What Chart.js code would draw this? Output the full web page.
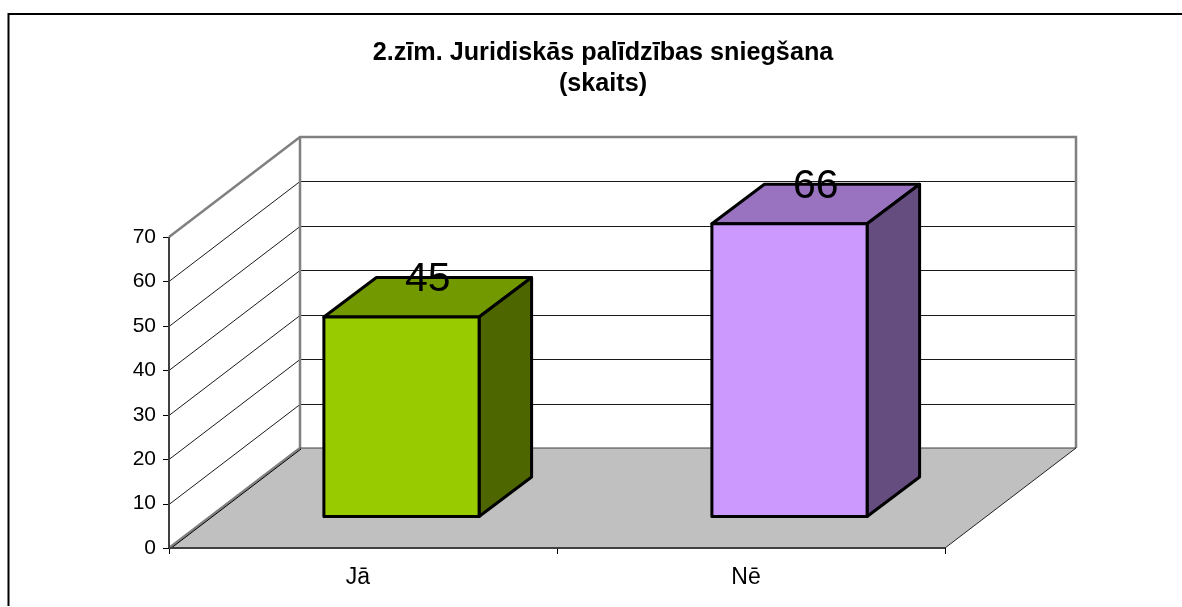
<!DOCTYPE html>
<html><head><meta charset="utf-8">
<style>html,body{margin:0;padding:0;background:#fff;overflow:hidden}#w{position:relative;width:1182px;height:607px}</style>
<script src="https://cdn.jsdelivr.net/npm/chart.js@4"></script>
</head><body><div id="w"><canvas id="c" width="1182" height="607"></canvas></div>
<script>
const categories = ["Jā", "Nē"];
const values = [45, 66];
const titleLines = ["2.zīm. Juridiskās palīdzības sniegšana", "(skaits)"];
const frontColors = ["#99cc00", "#cc99ff"];
const topColors = ["#739900", "#9973bf"];
const sideColors = ["#4d6600", "#664d80"];
const yMax = 70, yStep = 10;

// 3D projection settings
const WALL_DX = 131, WALL_DY = -100;   // depth of the whole floor
const BAR_SHIFT_X = 38.5, BAR_SHIFT_Y = -31; // bar position inside the floor
const BAR_DX = 52.5, BAR_DY = -39.5;   // depth of one bar
const TITLE_CENTER = 603;
const FONT = '"Liberation Sans", Arial, sans-serif';

function line(ctx, pts, color, w) {
  ctx.beginPath();
  pts.forEach((p, i) => i ? ctx.lineTo(p[0], p[1]) : ctx.moveTo(p[0], p[1]));
  ctx.strokeStyle = color; ctx.lineWidth = w; ctx.stroke();
}
function poly(ctx, pts, fill, stroke, w) {
  ctx.beginPath();
  pts.forEach((p, i) => i ? ctx.lineTo(p[0], p[1]) : ctx.moveTo(p[0], p[1]));
  ctx.closePath();
  if (fill) { ctx.fillStyle = fill; ctx.fill(); }
  if (stroke) { ctx.strokeStyle = stroke; ctx.lineWidth = w; ctx.lineJoin = "round"; ctx.stroke(); }
}

const threeD = {
  id: "threeD",
  afterLayout(chart) {
    // the plot leaves room on the right for the depth; the title is centred on the whole picture
    chart.titleBlock.left = 0;
    chart.titleBlock.right = TITLE_CENTER * 2;
  },
  beforeDraw(chart) {
    const ctx = chart.ctx;
    ctx.save();
    ctx.fillStyle = "#fff"; ctx.fillRect(0, 0, chart.width, chart.height);
    line(ctx, [[8.5, 606], [8.5, 14], [chart.width, 14]], "#000", 2);
    ctx.restore();
  },
  beforeDatasetsDraw(chart) {
    const ctx = chart.ctx, y = chart.scales.y, a = chart.chartArea;
    const L = a.left, R = a.right, B = y.getPixelForValue(0), T = y.getPixelForValue(yMax);
    ctx.save();
    poly(ctx, [[L, B], [R, B], [R + WALL_DX, B + WALL_DY], [L + WALL_DX, B + WALL_DY]], "#c0c0c0");
    y.ticks.forEach(t => {
      const p = Math.round(y.getPixelForValue(t.value)) + 0.5;
      line(ctx, [[L - 6, p], [L, p]], "#000", 1);
      if (t.value === 0 || t.value === yMax) return;
      line(ctx, [[L, p], [L + WALL_DX, p + WALL_DY], [R + WALL_DX, p + WALL_DY]], "#1a1a1a", 1);
    });
    line(ctx, [[L, T], [L + WALL_DX, T + WALL_DY], [R + WALL_DX, T + WALL_DY], [R + WALL_DX, B + WALL_DY]], "#808080", 2.5);
    line(ctx, [[L + WALL_DX, T + WALL_DY], [L + WALL_DX, B + WALL_DY], [L, B]], "#808080", 2.5);
    line(ctx, [[L + WALL_DX, B + WALL_DY], [R + WALL_DX, B + WALL_DY]], "#404040", 1);
    line(ctx, [[L + 1, B + 1], [L + WALL_DX + 1, B + WALL_DY + 1]], "#000", 1);
    line(ctx, [[R, B], [R + WALL_DX, B + WALL_DY]], "#222", 1);
    line(ctx, [[L, B], [R, B]], "#404040", 2);
    line(ctx, [[L, T], [L, B]], "#404040", 2);
    ctx.restore();
    ctx.save();
    ctx.translate(BAR_SHIFT_X, BAR_SHIFT_Y);
    chart.getDatasetMeta(0).data.forEach((bar, i) => {
      const x0 = bar.x - bar.width / 2, x1 = bar.x + bar.width / 2;
      poly(ctx, [[x0, bar.y], [x0 + BAR_DX, bar.y + BAR_DY], [x1 + BAR_DX, bar.y + BAR_DY], [x1, bar.y]], topColors[i], "#000", 3);
      poly(ctx, [[x1, bar.y], [x1 + BAR_DX, bar.y + BAR_DY], [x1 + BAR_DX, bar.base + BAR_DY], [x1, bar.base]], sideColors[i], "#000", 3);
    });
  },
  afterDatasetsDraw(chart) {
    const ctx = chart.ctx;
    chart.getDatasetMeta(0).data.forEach((bar, i) => {
      const x0 = bar.x - bar.width / 2, x1 = bar.x + bar.width / 2;
      poly(ctx, [[x0, bar.y], [x1, bar.y], [x1, bar.base], [x0, bar.base]], null, "#000", 3);
      ctx.fillStyle = "#000";
      ctx.font = "41px " + FONT;
      ctx.textAlign = "center";
      ctx.textBaseline = "middle";
      ctx.fillText(String(values[i]), bar.x + BAR_DX / 2, bar.y + BAR_DY + 2.5);
    });
    ctx.restore();
  }
};

new Chart(document.getElementById("c"), {
  type: "bar",
  plugins: [threeD],
  data: {
    labels: categories,
    datasets: [{
      data: values,
      backgroundColor: frontColors,
      borderWidth: 0,
      barPercentage: 0.4,
      categoryPercentage: 1,
      clip: false
    }]
  },
  options: {
    responsive: false,
    animation: false,
    layout: { padding: { left: 0, right: 237, top: 0, bottom: 0 } },
    plugins: {
      legend: { display: false },
      tooltip: { enabled: false },
      title: {
        display: true,
        text: titleLines,
        color: "#000",
        font: { family: FONT, size: 25.2, weight: "bold", lineHeight: 1.23 },
        padding: { top: 38, bottom: 137 },
        fullSize: true
      }
    },
    scales: {
      x: {
        afterFit(s) { s.height = 59; },
        grid: { drawOnChartArea: false, drawTicks: true, tickLength: 6, color: "#000", lineWidth: 1 },
        border: { display: false },
        ticks: { color: "#000", font: { family: FONT, size: 23 }, padding: 10, labelOffset: -5, maxRotation: 0 }
      },
      y: {
        min: 0, max: yMax,
        afterFit(s) { s.width = 169; },
        grid: { drawOnChartArea: false, drawTicks: false },
        border: { display: false },
        ticks: { stepSize: yStep, color: "#000", font: { family: FONT, size: 21 }, padding: 13 }
      }
    }
  }
});
</script></body></html>
